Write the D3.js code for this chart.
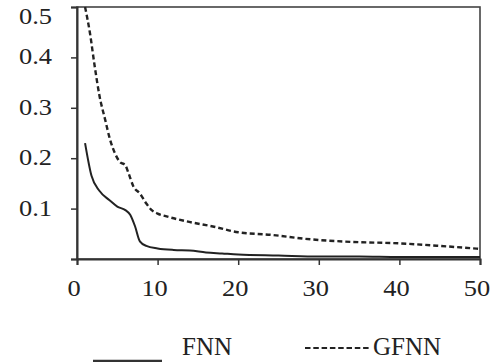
<!DOCTYPE html>
<html>
<head>
<meta charset="utf-8">
<script src="https://cdn.jsdelivr.net/npm/d3@7"></script>
<style>
  body { margin: 0; background: #fff; }
  text { font-family: "Liberation Serif", "Times New Roman", serif; fill: #222; }
</style>
</head>
<body>
<div id="chart"></div>
<script>
// values
var fnnX = [1, 1.8, 2.8, 4, 5, 6, 6.6, 7.2, 7.8, 8.6, 10, 12, 14, 16, 18, 20, 25, 30, 35, 40, 45, 50];
var fnnY = [0.23, 0.165, 0.135, 0.117, 0.104, 0.097, 0.088, 0.065, 0.035, 0.026, 0.021, 0.018, 0.017, 0.013, 0.011, 0.009, 0.007, 0.005, 0.005, 0.004, 0.004, 0.004];
var gfnnX = [1, 1.6, 2.2, 2.8, 3.5, 4.1, 4.7, 5.3, 6, 6.4, 7, 7.8, 8.6, 9.2, 10, 11, 13.5, 17, 20, 24, 29, 34, 40, 45, 50];
var gfnnY = [0.5, 0.449, 0.382, 0.323, 0.276, 0.237, 0.21, 0.193, 0.186, 0.17, 0.144, 0.13, 0.11, 0.098, 0.09, 0.085, 0.075, 0.064, 0.053, 0.048, 0.039, 0.034, 0.031, 0.026, 0.02];
var xTicks = [0, 10, 20, 30, 40, 50];
var yTicks = [0, 0.1, 0.2, 0.3, 0.4, 0.5];
var seriesNames = ["FNN", "GFNN"];

drawChart();

function drawChart() {
    var W = 502, H = 362;
    var mLeft = 77, mRight = 480, mTop = 7, mBottom = 259;

    var svg = d3.select("#chart").append("svg")
        .attr("width", W).attr("height", H);

    var x = d3.scaleLinear().domain([0, 50]).range([mLeft, mRight]);
    var y = d3.scaleLinear().domain([0, 0.5]).range([mBottom, mTop]);

    /* frame */
    svg.append("rect")
        .attr("x", mLeft).attr("y", mTop)
        .attr("width", mRight - mLeft).attr("height", mBottom - mTop)
        .attr("fill", "none").attr("stroke", "#444").attr("stroke-width", 1.6);

    /* axes */
    svg.append("g")
        .attr("transform", "translate(" + mLeft + ",0)")
        .call(d3.axisLeft(y).tickValues(yTicks).tickSize(6).tickFormat(""));
    svg.append("g")
        .attr("transform", "translate(0," + mBottom + ")")
        .call(d3.axisBottom(x).tickValues(xTicks).tickSize(6).tickFormat(""));
    svg.selectAll(".domain").attr("stroke", "#333").attr("stroke-width", 2);
    svg.selectAll(".tick line").attr("stroke", "#333").attr("stroke-width", 1.5);

    /* tick labels, slightly wide serif like the original */
    yTicks.filter(function(d) { return d > 0; }).forEach(function(d) {
        var cy = Math.max(y(d), 17);
        svg.append("text")
            .attr("transform", "translate(52," + (cy + 7) + ") scale(1.15,1)")
            .attr("text-anchor", "end")
            .style("font-size", "23px")
            .text(d3.format(".1f")(d));
    });
    xTicks.forEach(function(d) {
        svg.append("text")
            .attr("transform", "translate(" + (x(d) - 3) + ",296) scale(1.15,1)")
            .attr("text-anchor", "middle")
            .style("font-size", "23px")
            .text(d);
    });

    /* lines */
    var line = d3.line()
        .x(function(d) { return x(d[0]); })
        .y(function(d) { return y(d[1]); })
        .curve(d3.curveMonotoneX);

    svg.append("path")
        .datum(d3.zip(gfnnX, gfnnY))
        .attr("d", line)
        .attr("fill", "none")
        .attr("stroke", "#222")
        .attr("stroke-width", 2.4)
        .attr("stroke-dasharray", "5,3");

    svg.append("path")
        .datum(d3.zip(fnnX, fnnY))
        .attr("d", line)
        .attr("fill", "none")
        .attr("stroke", "#222")
        .attr("stroke-width", 2);

    /* legend */
    svg.append("line")
        .attr("x1", 93).attr("x2", 162).attr("y1", 361).attr("y2", 361)
        .attr("stroke", "#333").attr("stroke-width", 2.5);
    svg.append("text")
        .attr("x", 182).attr("y", 355)
        .style("font-size", "25px")
        .text(seriesNames[0]);
    svg.append("line")
        .attr("x1", 305).attr("x2", 371).attr("y1", 348).attr("y2", 348)
        .attr("stroke", "#222").attr("stroke-width", 2.2)
        .attr("stroke-dasharray", "5.5,2.8");
    svg.append("text")
        .attr("x", 373).attr("y", 355)
        .style("font-size", "25px")
        .text(seriesNames[1]);
}
</script>
</body>
</html>
